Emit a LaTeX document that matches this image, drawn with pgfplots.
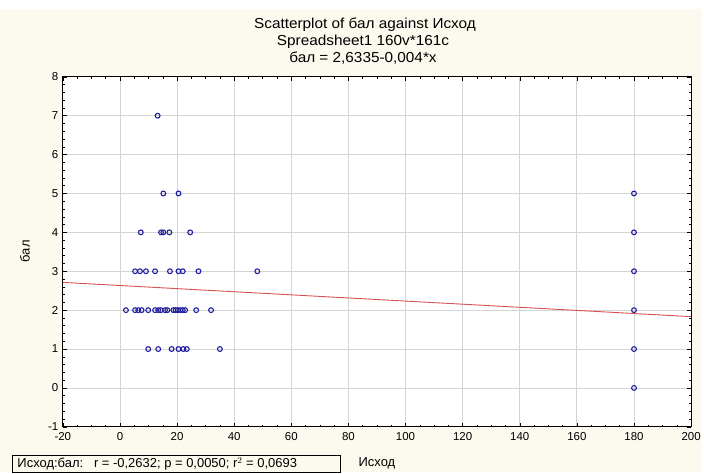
\documentclass[border=0pt]{standalone}
\usepackage{pgfplots}
\pgfplotsset{compat=1.18}
\usepackage{fontspec}
\setmainfont{Liberation Sans}
\newfontfamily\titlefont[FakeStretch=1.06]{Liberation Sans}
\definecolor{cream}{HTML}{FCF9EF}
\definecolor{ptblue}{HTML}{1F1FA0}
\definecolor{fitred}{HTML}{D85050}
\definecolor{gridgray}{HTML}{D4D4D4}
\begin{document}
\begin{tikzpicture}
\fill[cream] (0pt,0pt) rectangle (704pt,473pt);
\fill[white] (0pt,464pt) rectangle (704pt,473pt);
\begin{axis}[
  at={(63pt,45pt)}, anchor=south west,
  scale only axis, width=630pt, height=351pt,
  xmin=-20, xmax=200, ymin=-1, ymax=8,
  xtick={-20,0,...,200}, ytick={-1,0,...,8},
  minor x tick num=3, minor y tick num=4,
  tick align=inside,
  major tick length=4pt, minor tick length=2pt,
  xtick pos=both, ytick pos=both,
  xticklabel pos=lower, yticklabel pos=left,
  grid=major,
  major grid style={gridgray, line width=0.8pt},
  axis line style={black, line width=0.9pt},
  tick style={black, line width=0.5pt},
  axis background/.style={fill=white},
  tick label style={font=\fontsize{11.5}{12}\selectfont},
  /pgf/number format/assume math mode=true,
  xticklabel style={yshift=-2pt},
  yticklabel style={xshift=-1pt},
  clip=true,
]
\addplot[fitred, line width=0.9pt] coordinates {(-20,2.7135) (200,1.8335)};
\addplot[only marks, mark=o, mark size=2.4pt, mark options={ptblue, line width=1.1pt}] coordinates {
(13.2,7)
(15.2,5) (20.5,5) (180,5)
(7.3,4) (14.4,4) (15.2,4) (17.3,4) (24.6,4) (180,4)
(5.3,3) (7.0,3) (9.1,3) (12.3,3) (17.5,3) (20.5,3) (22.0,3) (27.5,3) (48.1,3) (180,3)
(2.1,2) (5.3,2) (6.4,2) (7.6,2) (9.9,2) (12.3,2) (13.4,2) (14.3,2) (15.8,2) (16.6,2)
(18.7,2) (19.5,2) (20.3,2) (21.1,2) (22.0,2) (22.8,2) (26.7,2) (31.9,2) (180,2)
(9.9,1) (13.4,1) (18.1,1) (20.5,1) (22.2,1) (23.4,1) (35.0,1) (180,1)
(180,0)
};
\end{axis}
\node[font=\titlefont\fontsize{14.5}{15}\selectfont, anchor=base] at (366pt,444pt) {Scatterplot of бал against Исход};
\node[font=\titlefont\fontsize{14.5}{15}\selectfont, anchor=base] at (364pt,427pt) {Spreadsheet1 160v*161c};
\node[font=\titlefont\fontsize{14.5}{15}\selectfont, anchor=base] at (364pt,410pt) {бал = 2,6335-0,004*x};
\node[font=\fontsize{13}{14}\selectfont, rotate=90] at (25pt,221pt) {бал};
\node[font=\fontsize{13}{14}\selectfont, anchor=base] at (378pt,5pt) {Исход};
\draw[black, line width=0.8pt] (12pt,-1pt) rectangle (341pt,16pt);
\node[font=\fontsize{13}{14}\selectfont, anchor=base west] at (14pt,4pt) {Исход:бал:\ \ \ r = -0,2632; p = 0,0050; r$^{2}$ = 0,0693};
\end{tikzpicture}
\end{document}
